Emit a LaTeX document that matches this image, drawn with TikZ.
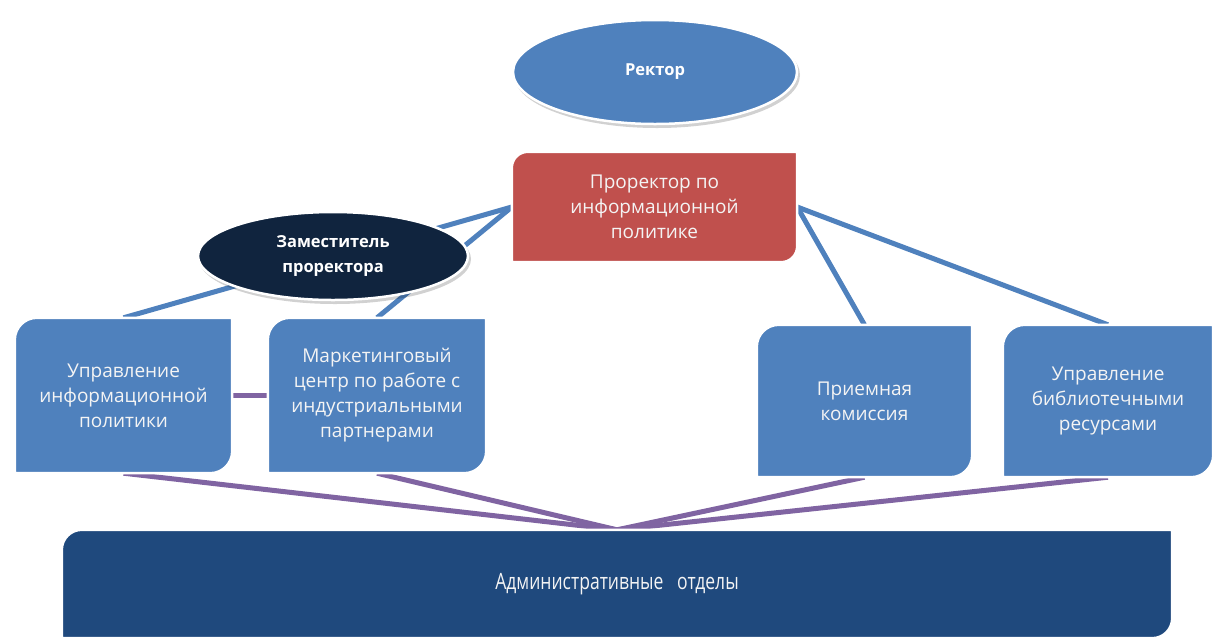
\documentclass[tikz,border=0pt]{standalone}
\usepackage{fontspec}
\setmainfont{Open Sans}
\newfontfamily\narrowfont[FakeStretch=0.78]{Open Sans}
\usetikzlibrary{shapes.geometric,calc}
\pgfdeclarelayer{lines}
\pgfdeclarelayer{shapes}
\pgfsetlayers{lines,shapes,main}
\definecolor{cblue}{HTML}{4F81BD}
\definecolor{cred}{HTML}{C0504D}
\definecolor{cnavy}{HTML}{10243E}
\definecolor{cdark}{HTML}{1F497D}
\definecolor{cpurple}{HTML}{8064A2}
\definecolor{ctext}{HTML}{F4F4F4}
% diagonal rounded shape behind a node: #1 node name, #2 radius, #3 fill colour
\newcommand\diagshape[3]{%
  \fill[black,opacity=0.18,xshift=2pt,yshift=-3pt] let \p1=(#1.north west), \p2=(#1.south east) in
    (\x1,\y2) -- (\x1,\y1-#2) arc[start angle=180,end angle=90,radius=#2] -- (\x2,\y1)
    -- (\x2,\y2+#2) arc[start angle=0,end angle=-90,radius=#2] -- cycle;
  \filldraw[fill=#3,draw=white,line width=2.5pt] let \p1=(#1.north west), \p2=(#1.south east) in
    (\x1,\y2) -- (\x1,\y1-#2) arc[start angle=180,end angle=90,radius=#2] -- (\x2,\y1)
    -- (\x2,\y2+#2) arc[start angle=0,end angle=-90,radius=#2] -- cycle;
}
\begin{document}
\begin{tikzpicture}[x=1pt,y=-1pt,
  boxtext/.style={inner sep=0pt, text=ctext, align=center,
    font=\fontsize{19}{25}\selectfont},
  ovalnode/.style={ellipse, inner sep=0pt, draw=white, line width=2.5pt, text=white,
    align=center, font=\bfseries\fontsize{16.5}{25}\selectfont},
  ovalshadow/.style={fill=black, opacity=0.18},
  bline/.style={draw=cblue, line width=5pt},
  pline/.style={draw=cpurple, line width=5pt}]
\begin{pgfonlayer}{lines}
\fill[white] (0,0) rectangle (1216,641);
\end{pgfonlayer}
\useasboundingbox (0,0) rectangle (1216,641);

% nodes
\node[ovalnode, fill=cblue, minimum width=284, minimum height=104] (rek) at (655,72) {Ректор};
\node[boxtext, minimum width=285, minimum height=110] (pr) at (654.5,207)
  {Проректор по\\информационной\\политике};
\node[boxtext, minimum width=217, minimum height=155] (b1) at (123.5,395.5)
  {Управление\\информационной\\политики};
\node[boxtext, minimum width=218, minimum height=155] (b2) at (377,395.5)
  {Маркетинговый\\центр по работе с\\индустриальными\\партнерами};
\node[boxtext, minimum width=215, minimum height=152] (b3) at (864.5,401)
  {Приемная\\комиссия};
\node[boxtext, minimum width=210, minimum height=152] (b4) at (1108,401)
  {Управление\\библиотечными\\ресурсами};
\node[boxtext, minimum width=1110, minimum height=108, font=\narrowfont\fontsize{22.5}{25}\selectfont] (bot) at (617,584)
  {Административные\ \ \ отделы};
\node[ovalnode, fill=cnavy, minimum width=270, minimum height=88] (zam) at (333,256)
  {Заместитель\\проректора};

% shapes
\begin{pgfonlayer}{shapes}
\fill[ovalshadow] ($(rek.center)+(2,3)$) ellipse[x radius=143pt, y radius=53pt];
\fill[ovalshadow] ($(zam.center)+(2,3)$) ellipse[x radius=136pt, y radius=45pt];
\diagshape{pr}{16pt}{cred}
\diagshape{b1}{22pt}{cblue}
\diagshape{b2}{22pt}{cblue}
\diagshape{b3}{22pt}{cblue}
\diagshape{b4}{22pt}{cblue}
\diagshape{bot}{20pt}{cdark}
\end{pgfonlayer}

% connectors
\begin{pgfonlayer}{lines}
\draw[bline] (pr.west) -- (b1.north);
\draw[bline] (pr.west) -- (b2.north);
\draw[bline] (pr.east) -- (b3.north);
\draw[bline] (pr.east) -- (b4.north);
\draw[pline] (b1.east) -- (b2.west);
\draw[pline] (b1.south) -- (bot.north);
\draw[pline] (b2.south) -- (bot.north);
\draw[pline] (b3.south) -- (bot.north);
\draw[pline] (b4.south) -- (bot.north);
\end{pgfonlayer}
\end{tikzpicture}
\end{document}
